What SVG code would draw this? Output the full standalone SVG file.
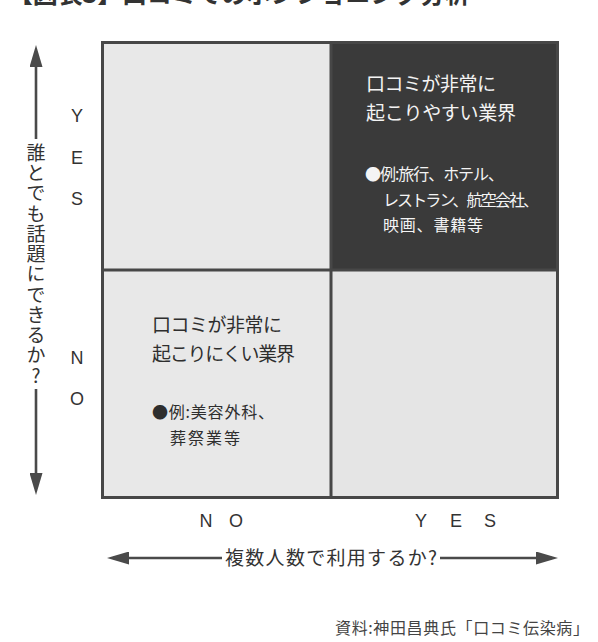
<svg xmlns="http://www.w3.org/2000/svg" width="598" height="642" viewBox="0 0 598 642">
<style>
.bg{fill:#ffffff}
.light{fill:#e8e8e8}
.dark{fill:#3a3a3a}
.frame{fill:none;stroke:#474747;stroke-width:3}
.div{stroke:#474747;stroke-width:3}
.jp{font-family:"Noto Sans CJK JP","Noto Sans",sans-serif}
.head{font-size:19px}
.item{font-size:16px}
.onDark{fill:#f4f4f4}
.onLight{fill:#2e2e2e}
.lat{font-family:"Liberation Sans",Arial,sans-serif;font-size:18px;fill:#333;text-anchor:middle}
.axis{font-size:19px;fill:#333}
.arr{stroke:#4a4a4a;stroke-width:2.6;fill:none}
.src{font-size:16px;fill:#444}
</style>
<defs>
<marker id="ah" viewBox="0 0 22 13" refX="16" refY="6.5" markerWidth="22" markerHeight="13" markerUnits="userSpaceOnUse" orient="auto">
<path d="M0,0 L22,6.5 L0,13 z" fill="#4a4a4a"/>
</marker>
</defs>
<rect class="bg" x="0" y="0" width="598" height="642"/>
<text id="title" class="jp" x="8" y="3" font-size="25" font-weight="bold" fill="#333" textLength="462" lengthAdjust="spacing">【図表3】口コミでのポジショニング分析</text>

<g id="q-top-left">
<rect class="light" x="102.5" y="42.5" width="228" height="228"/>
</g>
<g id="q-top-right">
<rect class="dark" x="330.5" y="42.5" width="227" height="228"/>
<text class="jp head onDark" x="366" y="91" textLength="130" lengthAdjust="spacing">口コミが非常に</text>
<text class="jp head onDark" x="366" y="120" textLength="150" lengthAdjust="spacing">起こりやすい業界</text>
<text class="jp item onDark" x="365" y="180" textLength="139" lengthAdjust="spacing">●例:旅行、ホテル、</text>
<text class="jp item onDark" x="383" y="206" textLength="156" lengthAdjust="spacing">レストラン、航空会社、</text>
<text class="jp item onDark" x="383" y="231" textLength="100" lengthAdjust="spacing">映画、書籍等</text>
</g>
<g id="q-bottom-left">
<rect class="light" x="102.5" y="270.5" width="228" height="227"/>
<text class="jp head onLight" x="152" y="332" textLength="130" lengthAdjust="spacing">口コミが非常に</text>
<text class="jp head onLight" x="152" y="361" textLength="143" lengthAdjust="spacing">起こりにくい業界</text>
<text class="jp item onLight" x="152" y="418" textLength="122" lengthAdjust="spacing">●例:美容外科、</text>
<text class="jp item onLight" x="170" y="444" textLength="70" lengthAdjust="spacing">葬祭業等</text>
</g>
<g id="q-bottom-right">
<rect class="light" x="330.5" y="270.5" width="227" height="227" style="fill:#e5e5e5"/>
</g>
<g id="grid">
<line class="div" x1="331" y1="42.5" x2="331" y2="497.5"/>
<line class="div" x1="102.5" y1="270" x2="557.5" y2="270"/>
<rect class="frame" x="102.5" y="42.5" width="455" height="455"/>
</g>

<g id="y-labels">
<text class="lat" x="77" y="122">Y</text>
<text class="lat" x="77" y="164">E</text>
<text class="lat" x="77" y="205">S</text>
<text class="lat" x="77" y="364">N</text>
<text class="lat" x="77" y="405">O</text>
</g>
<g id="x-labels">
<text class="lat" x="206" y="527">N</text>
<text class="lat" x="236" y="527">O</text>
<text class="lat" x="421" y="527">Y</text>
<text class="lat" x="456" y="527">E</text>
<text class="lat" x="490" y="527">S</text>
</g>

<g id="connectors">
<line class="arr" x1="36" y1="139" x2="36" y2="51" marker-end="url(#ah)"/>
<line class="arr" x1="36" y1="389" x2="36" y2="489" marker-end="url(#ah)"/>
<line class="arr" x1="222" y1="558" x2="113" y2="558" marker-end="url(#ah)"/>
<line class="arr" x1="440" y1="558" x2="552" y2="558" marker-end="url(#ah)"/>
</g>

<g id="axis-labels">
<text class="jp axis" x="36" y="143" style="writing-mode:vertical-rl;text-orientation:upright" textLength="242" lengthAdjust="spacing">誰とでも話題にできるか?</text>
<text class="jp axis" x="225" y="565" textLength="212" lengthAdjust="spacing">複数人数で利用するか?</text>
</g>

<text id="source" class="jp src" x="335" y="634" textLength="254" lengthAdjust="spacing">資料:神田昌典氏「口コミ伝染病」</text>
</svg>
